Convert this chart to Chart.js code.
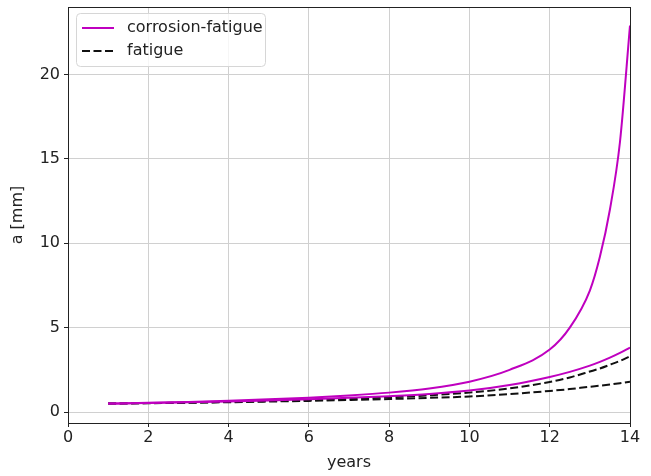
<!DOCTYPE html>
<html>
<head>
<meta charset="utf-8">
<script src="https://cdn.jsdelivr.net/npm/chart.js@4/dist/chart.umd.min.js"></script>
<style>
  body { margin: 0; background: #fff; }
</style>
</head>
<body>
<canvas id="myChart" width="651" height="476"></canvas>
<script>
const years = [1, 2, 3, 4, 5, 6, 7, 8, 9, 10, 11, 12, 12.5, 13, 13.25, 13.5, 13.75, 14];
const corrosionA = [0.50, 0.55, 0.60, 0.67, 0.75, 0.85, 0.98, 1.15, 1.40, 1.80, 2.50, 3.70, 5.0, 7.2, 9.2, 12.0, 16.0, 22.9];
const corrosionB = [0.50, 0.54, 0.58, 0.63, 0.69, 0.76, 0.84, 0.94, 1.07, 1.27, 1.60, 2.08, 2.38, 2.75, 2.97, 3.22, 3.50, 3.82];
const fatigueA = [0.50, 0.53, 0.56, 0.60, 0.65, 0.71, 0.78, 0.87, 0.99, 1.15, 1.40, 1.78, 2.05, 2.40, 2.58, 2.80, 3.03, 3.30];
const fatigueB = [0.50, 0.52, 0.55, 0.58, 0.62, 0.66, 0.71, 0.77, 0.84, 0.92, 1.06, 1.25, 1.36, 1.50, 1.56, 1.63, 1.71, 1.80];
const xTicks = [0, 2, 4, 6, 8, 10, 12, 14];
const yTicks = [0, 5, 10, 15, 20];

const MAGENTA = '#bf00bf';
const FONT = { family: 'DejaVu Sans', size: 16 };

function points(values) {
    return values.map((v, i) => ({ x: years[i], y: v }));
}

function series(label, values, color, dash, inLegend) {
    return {
        label: label,
        data: points(values),
        borderColor: color,
        borderWidth: 2,
        borderDash: dash,
        pointRadius: 0,
        fill: false,
        cubicInterpolationMode: 'monotone',
        showInLegend: inLegend
    };
}

// box around the plot area, like matplotlib spines
const frame = {
    id: 'frame',
    afterDatasetsDraw(chart) {
        const a = chart.chartArea;
        const c = chart.ctx;
        c.save();
        c.strokeStyle = '#222';
        c.lineWidth = 1;
        c.strokeRect(a.left + 0.5, a.top + 0.5, a.right - a.left, a.bottom - a.top);
        c.restore();
    }
};

// legend drawn inside the plot, top left
const innerLegend = {
    id: 'innerLegend',
    afterDraw(chart) {
        const a = chart.chartArea;
        const c = chart.ctx;
        const items = chart.data.datasets.filter(d => d.showInLegend);
        const x = a.left + 8, y = a.top + 6, w = 189, h = 53, r = 4;
        c.save();
        c.fillStyle = 'rgba(255,255,255,0.8)';
        c.strokeStyle = '#d6d6d6';
        c.lineWidth = 1;
        c.beginPath();
        c.roundRect(x + 0.5, y + 0.5, w, h, r);
        c.fill();
        c.stroke();
        c.font = '16px "DejaVu Sans"';
        c.textBaseline = 'middle';
        items.forEach((d, i) => {
            const ly = y + 15 + i * 23;
            c.strokeStyle = d.borderColor;
            c.lineWidth = 2;
            c.setLineDash(d.borderDash || []);
            c.beginPath();
            c.moveTo(x + 6, ly);
            c.lineTo(x + 38, ly);
            c.stroke();
            c.setLineDash([]);
            c.fillStyle = '#222';
            c.fillText(d.label, x + 51, ly);
        });
        c.restore();
    }
};

const ctx = document.getElementById('myChart');

new Chart(ctx, {
    type: 'line',
    data: {
        datasets: [
            series('corrosion-fatigue', corrosionA, MAGENTA, [], true),
            series('corrosion-fatigue', corrosionB, MAGENTA, [], false),
            series('fatigue', fatigueA, '#111', [8, 3.5], true),
            series('fatigue', fatigueB, '#111', [8, 3.5], false)
        ]
    },
    options: {
        responsive: false,
        animation: false,
        layout: { padding: { left: 4, right: 21, top: 7, bottom: 0 } },
        scales: {
            x: {
                type: 'linear',
                min: 0,
                max: 14,
                afterBuildTicks: axis => { axis.ticks = xTicks.map(v => ({ value: v })); },
                afterFit: axis => {
                    axis.height = 53;
                    axis.paddingLeft = 0;
                    axis.paddingRight = 0;
                },
                grid: { color: '#d0d0d0', tickColor: '#222', tickLength: 4 },
                border: { display: false },
                ticks: { color: '#222', font: FONT, padding: 1, maxRotation: 0 },
                title: { display: true, text: 'years', color: '#222', font: FONT, padding: { top: 6 } }
            },
            y: {
                min: -0.65,
                max: 24.0,
                afterBuildTicks: axis => { axis.ticks = yTicks.map(v => ({ value: v })); },
                afterFit: axis => {
                    axis.width = 64;
                    axis.paddingTop = 0;
                    axis.paddingBottom = 0;
                },
                grid: { color: '#d0d0d0', tickColor: '#222', tickLength: 4 },
                border: { display: false },
                ticks: { color: '#222', font: FONT, padding: 4 },
                title: { display: true, text: 'a [mm]', color: '#222', font: FONT, padding: { bottom: 10 } }
            }
        },
        plugins: {
            legend: { display: false },
            tooltip: { enabled: false }
        }
    },
    plugins: [frame, innerLegend]
});
</script>
</body>
</html>
